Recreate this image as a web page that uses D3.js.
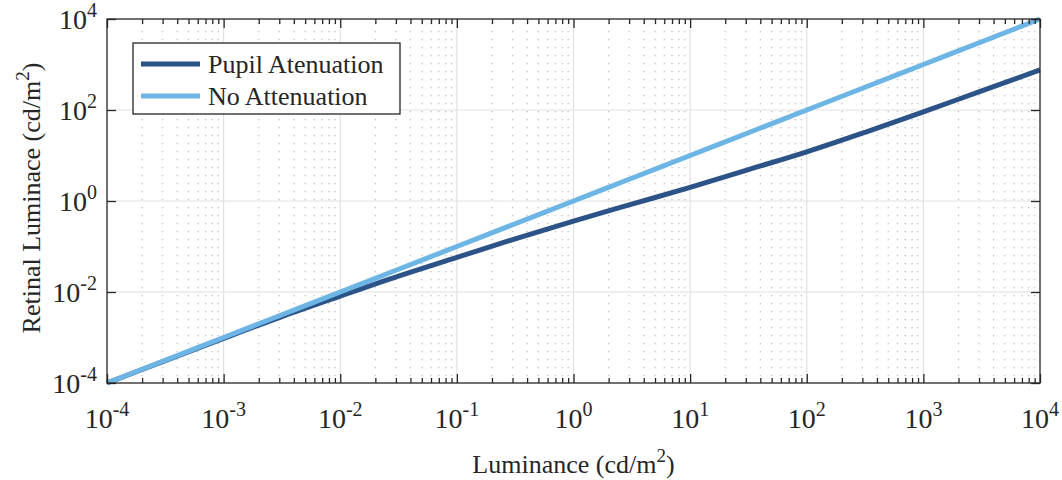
<!DOCTYPE html>
<html>
<head>
<meta charset="utf-8">
<script src="https://cdn.jsdelivr.net/npm/d3@7"></script>
<style>
  body { margin: 0; background: #fff; }
  text { font-family: "Liberation Serif", "Times New Roman", serif; fill: #262626; }
</style>
</head>
<body>
<svg id="chart"></svg>
<script>
// data (log10 values)
let logLum = [-4, -3.5, -3, -2.5, -2, -1.5, -1, -0.5, 0, 0.5, 1, 1.5, 2, 2.5, 3, 3.5, 4];
let pupilLog = [-4, -3.51, -3.02, -2.54, -2.09, -1.65, -1.24, -0.83, -0.44, -0.07, 0.30, 0.69, 1.08, 1.51, 1.96, 2.42, 2.88];
let noAttLog = [-4, -3.5, -3, -2.5, -2, -1.5, -1, -0.5, 0, 0.5, 1, 1.5, 2, 2.5, 3, 3.5, 4];
let xTickExp = [-4, -3, -2, -1, 0, 1, 2, 3, 4];
let yTickExp = [-4, -2, 0, 2, 4];
let seriesNames = ["Pupil Atenuation", "No Attenuation"];
let seriesColors = ["#2b5388", "#6db5e5"];

let margin = {top: 19, right: 22, bottom: 97, left: 107},
  width = 1062 - margin.left - margin.right,
  height = 480 - margin.top - margin.bottom;

let svg = d3.select('#chart')
  .attr("width", 1062)
  .attr("height", 480)
  .append("g")
    .attr("transform", "translate(" + margin.left + "," + margin.top + ")");

let x = d3.scaleLog().domain([1e-4, 1e4]).range([0, width]),
    y = d3.scaleLog().domain([1e-4, 1e4]).range([height, 0]);

// minor positions 2..9 in every decade
let minorX = [];
xTickExp.slice(0, -1).forEach(function(e){
  for (let k = 2; k <= 9; k++) minorX.push(k * Math.pow(10, e));
});

// grid
svg.append("g").selectAll("line").data(minorX).join("line")
  .attr("x1", d => x(d)).attr("x2", d => x(d))
  .attr("y1", 4).attr("y2", height)
  .attr("stroke", "#bcbcbc").attr("stroke-width", 1.2)
  .attr("stroke-dasharray", "1.2,6.8");

svg.append("g").selectAll("line").data(xTickExp.slice(1, -1)).join("line")
  .attr("x1", d => x(Math.pow(10, d))).attr("x2", d => x(Math.pow(10, d)))
  .attr("y1", 0).attr("y2", height)
  .attr("stroke", "#e1e1e1").attr("stroke-width", 1.2);

svg.append("g").selectAll("line").data(yTickExp.slice(1, -1)).join("line")
  .attr("y1", d => y(Math.pow(10, d))).attr("y2", d => y(Math.pow(10, d)))
  .attr("x1", 0).attr("x2", width)
  .attr("stroke", "#e1e1e1").attr("stroke-width", 1.2);

// lines
let line = d3.line()
  .x(function(d) { return x(Math.pow(10, d[0])); })
  .y(function(d) { return y(Math.pow(10, d[1])); })
  .curve(d3.curveCatmullRom);

let series = [pupilLog, noAttLog];
series.forEach(function(vals, i){
  svg.append("path")
    .datum(logLum.map((lx, j) => [lx, vals[j]]))
    .attr("fill", "none")
    .attr("stroke", seriesColors[i])
    .attr("stroke-width", 5)
    .attr("d", line);
});

// axes with inward ticks
function styleAxis(g) {
  g.select(".domain").remove();
  g.selectAll("line").attr("stroke", "#262626").attr("stroke-width", 1.3);
}
let majorVals = xTickExp.map(e => Math.pow(10, e)),
    yMajorVals = yTickExp.map(e => Math.pow(10, e));
svg.append("g").attr("transform", "translate(0," + height + ")")
  .call(d3.axisBottom(x).tickValues(minorX).tickSize(-5).tickFormat(""))
  .call(styleAxis);
svg.append("g")
  .call(d3.axisTop(x).tickValues(minorX).tickSize(-5).tickFormat(""))
  .call(styleAxis);
svg.append("g").attr("transform", "translate(0," + height + ")")
  .call(d3.axisBottom(x).tickValues(majorVals).tickSize(-9).tickFormat(""))
  .call(styleAxis);
svg.append("g")
  .call(d3.axisTop(x).tickValues(majorVals).tickSize(-9).tickFormat(""))
  .call(styleAxis);
svg.append("g")
  .call(d3.axisLeft(y).tickValues(yMajorVals).tickSize(-9).tickFormat(""))
  .call(styleAxis);
svg.append("g").attr("transform", "translate(" + width + ",0)")
  .call(d3.axisRight(y).tickValues(yMajorVals).tickSize(-9).tickFormat(""))
  .call(styleAxis);

// box
svg.append("rect")
  .attr("width", width).attr("height", height)
  .attr("fill", "none").attr("stroke", "#262626").attr("stroke-width", 1.3);

// tick labels
function powLabel(sel, e) {
  sel.append("tspan").text("10");
  sel.append("tspan").attr("dy", -12).attr("font-size", "20px").text(e);
}
xTickExp.forEach(function(e){
  svg.append("text")
    .attr("x", x(Math.pow(10, e)))
    .attr("y", height + 45)
    .attr("text-anchor", "middle")
    .style("font-size", "28px")
    .call(powLabel, e);
});
yTickExp.forEach(function(e){
  svg.append("text")
    .attr("x", -10)
    .attr("y", y(Math.pow(10, e)) + 10)
    .attr("text-anchor", "end")
    .style("font-size", "28px")
    .call(powLabel, e);
});

// axis labels
let xl = svg.append("text")
  .attr("x", width / 2)
  .attr("y", height + 90)
  .attr("text-anchor", "middle")
  .style("font-size", "26px");
xl.append("tspan").text("Luminance (cd/m");
xl.append("tspan").attr("dy", -11).attr("font-size", "19px").text("2");
xl.append("tspan").attr("dy", 11).text(")");

let yl = svg.append("text")
  .attr("transform", "rotate(-90)")
  .attr("x", -(height / 2) + 3)
  .attr("y", -67)
  .attr("text-anchor", "middle")
  .style("font-size", "26px");
yl.append("tspan").text("Retinal Luminace (cd/m");
yl.append("tspan").attr("dy", -11).attr("font-size", "19px").text("2");
yl.append("tspan").attr("dy", 11).text(")");

// legend
let legend = svg.append("g").attr("transform", "translate(26,24)");
legend.append("rect")
  .attr("width", 267).attr("height", 71)
  .attr("fill", "#fff").attr("stroke", "#262626").attr("stroke-width", 1.3);
seriesNames.forEach(function(name, i){
  let ly = 21 + i * 32;
  legend.append("line")
    .attr("x1", 8).attr("x2", 67).attr("y1", ly).attr("y2", ly)
    .attr("stroke", seriesColors[i]).attr("stroke-width", 5);
  legend.append("text")
    .attr("x", 75).attr("y", ly + 9)
    .style("font-size", "26px")
    .text(name);
});
</script>
</body>
</html>
